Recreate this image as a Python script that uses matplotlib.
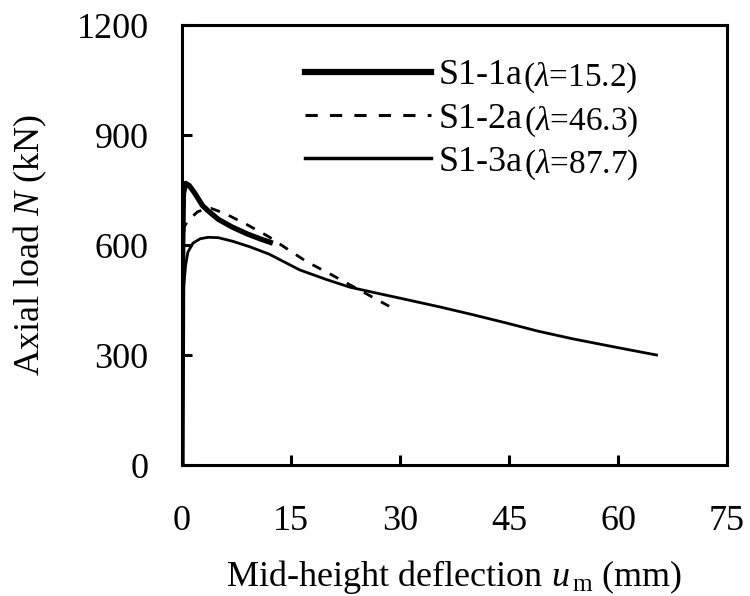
import matplotlib
matplotlib.use("Agg")
import matplotlib.pyplot as plt
from matplotlib.lines import Line2D

plt.rcParams['font.family'] = ['Liberation Serif', 'DejaVu Serif']
plt.rcParams['mathtext.fontset'] = 'custom'
plt.rcParams['mathtext.rm'] = 'Liberation Serif'
plt.rcParams['mathtext.it'] = 'Liberation Serif:italic'

# Data (deflection mm, axial load kN)
s1_x = [0, 0.05, 0.1, 0.2, 0.5, 1.0, 1.8, 2.8, 3.6, 5.0, 6.9, 9.0, 11.0, 12.5]
s1_y = [0, 300, 600, 740, 768, 762, 740, 708, 693, 670, 649, 630, 615, 605]

s2_x = [0, 0.05, 0.15, 0.3, 0.8, 2.1, 3.0, 4.0, 6.0, 9.0, 12.0, 15.1, 17.2, 20.1, 24.9, 28.5]
s2_y = [0, 300, 560, 650, 665, 690, 697, 700, 685, 655, 622, 581, 554, 524, 472, 433]

s3_x = [0, 0.05, 0.2, 0.5, 0.8, 1.5, 2.5, 3.6, 5.0, 7.0, 9.35, 12.0, 16.2, 20.0, 23.1, 26.5, 30.0, 35.5, 40.0, 44.7, 49.0, 53.8, 60.0, 65.3]
s3_y = [0, 250, 480, 545, 580, 605, 617, 621, 620, 610, 595, 575, 532, 505, 485, 470, 455, 431, 410, 387, 365, 344, 320, 300]

names = ['S1-1a', 'S1-2a', 'S1-3a']
slenderness = ['15.2', '46.3', '87.7']
xticks = [0, 15, 30, 45, 60, 75]
yticks = [0, 300, 600, 900, 1200]

W, H = 750, 596
fig = plt.figure(figsize=(7.5, 5.96), dpi=100)
ax = fig.add_axes([182/W, 1-465/H, (727-182)/W, (465-25)/H])

ax.plot(s1_x, s1_y, color='black', lw=3.8, solid_capstyle='butt')
ax.plot(s2_x, s2_y, color='black', lw=2.0, dashes=(3.5, 3.5))
ax.plot(s3_x, s3_y, color='black', lw=2.0)

ax.set_xlim(0, 75)
ax.set_ylim(0, 1200)
ax.set_xticks(xticks)
ax.set_yticks(yticks)
for s in ax.spines.values():
    s.set_linewidth(2.2)
ax.tick_params(direction='in', length=7, width=2.2, labelsize=26, color='black')
ax.tick_params(axis='x', pad=29)
ax.tick_params(axis='y', pad=24)

ax.set_xlabel('Mid-height deflection $\\mathit{u}_{\\,\\mathrm{m}}$ (mm)', fontsize=26, labelpad=14)
ax.set_ylabel('Axial load $\\mathit{N}$ (kN)', fontsize=26, labelpad=20)

handles = [Line2D([], [], color='black', lw=4.5),
           Line2D([], [], color='black', lw=2.2, dashes=(4, 4)),
           Line2D([], [], color='black', lw=2.5)]
leg = ax.legend(handles, names, loc='upper left', bbox_to_anchor=(305/W, 1-59/H),
                bbox_transform=fig.transFigure, frameon=False, fontsize=26,
                handlelength=3.5, handletextpad=0.2, labelspacing=0.28,
                borderpad=0, borderaxespad=0)

fig.canvas.draw()
r = fig.canvas.get_renderer()
for t, lam in zip(leg.get_texts(), slenderness):
    bb = t.get_window_extent(r)
    fig.text((bb.x1 + 1) / W, (bb.y0 - 3) / H, '($\\mathit{\\lambda}$=' + lam + ')',
             fontsize=24, ha='left', va='bottom')

fig.savefig('out.png', dpi=100)
